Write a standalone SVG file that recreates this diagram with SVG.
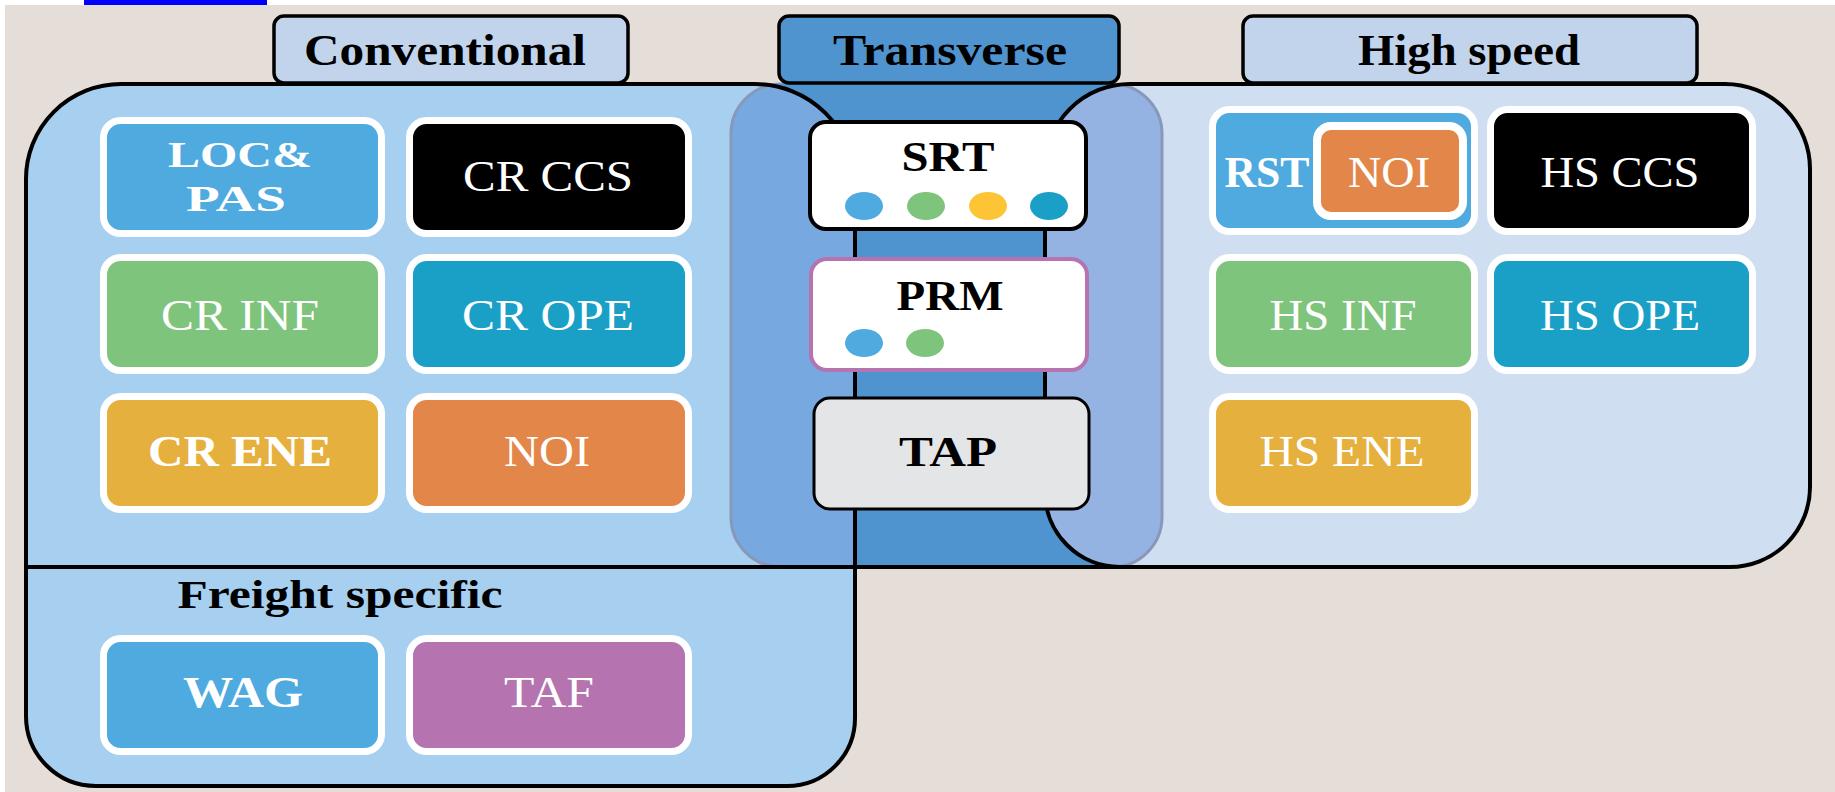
<svg xmlns="http://www.w3.org/2000/svg" width="1835" height="792" viewBox="0 0 1835 792">
<style>
.hdr{font-family:"Liberation Serif","Times New Roman",serif;font-weight:bold;font-size:44px;fill:#000;text-anchor:middle}
.tr{font-family:"Liberation Serif","Times New Roman",serif;font-weight:bold;font-size:43px;fill:#000;text-anchor:middle}
.lbl{font-family:"Liberation Serif","Times New Roman",serif;font-size:44px;fill:#fff;text-anchor:middle}
.lbl.sm{font-size:35px}
.b{font-weight:bold}
.tile{stroke:#fff;stroke-width:7}
.hb{stroke:#000;stroke-width:3.5}
.out{fill:none;stroke:#000;stroke-width:4}
</style>
<rect x="0" y="0" width="1835" height="792" fill="#e5ddd8"/>
<rect x="0" y="0" width="1835" height="5" fill="#fff"/>
<rect x="0" y="0" width="5" height="792" fill="#fff"/>
<rect x="84" y="0" width="183" height="5" fill="#0000ff"/>

<g id="regions">
  <path d="M755 84 A100 100 0 0 1 855 184 L855 567 L1120 567 A75 75 0 0 1 1045 492 L1045 169 A85 85 0 0 1 1130 84 Z" fill="#4f93cf"/>
  <path d="M26 179 A95 95 0 0 1 121 84 L755 84 A100 100 0 0 1 855 184 L855 718 A68 68 0 0 1 787 786 L96 786 A70 70 0 0 1 26 716 Z" fill="#a7cfef"/>
  <path d="M1130 84 L1725 84 A85 85 0 0 1 1810 169 L1810 487 A80 80 0 0 1 1730 567 L1120 567 A75 75 0 0 1 1045 492 L1045 169 A85 85 0 0 1 1130 84 Z" fill="#cfdef1"/>
  <rect x="731" y="84" width="431" height="483" rx="50" fill="rgb(0,70,185)" fill-opacity="0.28" stroke="#8898bb" stroke-width="3"/>
  <path d="M755 84 A100 100 0 0 1 855 184 L855 567 L1120 567 A75 75 0 0 1 1045 492 L1045 169 A85 85 0 0 1 1130 84 Z" fill="#4f93cf"/>
  <path class="out" d="M26 179 A95 95 0 0 1 121 84 L755 84 A100 100 0 0 1 855 184 L855 718 A68 68 0 0 1 787 786 L96 786 A70 70 0 0 1 26 716 Z"/>
  <path class="out" d="M1130 84 L1725 84 A85 85 0 0 1 1810 169 L1810 487 A80 80 0 0 1 1730 567 L1120 567 A75 75 0 0 1 1045 492 L1045 169 A85 85 0 0 1 1130 84 Z"/>
  <path class="out" d="M26 567 L1120 567"/>
</g>

<g id="connectors"></g>

<g id="hdr-conventional">
  <rect class="hb" x="274" y="16" width="354" height="67" rx="10" fill="#c2d3ec"/>
  <text class="hdr" x="445" y="65" textLength="282" lengthAdjust="spacingAndGlyphs">Conventional</text>
</g>
<g id="hdr-transverse">
  <rect class="hb" x="779" y="16" width="340" height="67" rx="10" fill="#4f93cf"/>
  <text class="hdr" x="950" y="65" textLength="234" lengthAdjust="spacingAndGlyphs">Transverse</text>
</g>
<g id="hdr-highspeed">
  <rect class="hb" x="1243" y="16" width="454" height="67" rx="10" fill="#c2d3ec"/>
  <text class="hdr" x="1469" y="65" textLength="222" lengthAdjust="spacingAndGlyphs">High speed</text>
</g>

<g id="loc-pas">
  <rect class="tile" x="103.5" y="120.5" width="278" height="113" rx="17" fill="#4eaadf"/>
  <text class="lbl b sm" x="240" y="167" textLength="144" lengthAdjust="spacingAndGlyphs">LOC&amp;</text>
  <text class="lbl b sm" x="236" y="211" textLength="100" lengthAdjust="spacingAndGlyphs">PAS</text>
</g>
<g id="cr-ccs">
  <rect class="tile" x="409.5" y="120.5" width="279" height="113" rx="17" fill="#000"/>
  <text class="lbl" x="548" y="191" textLength="170" lengthAdjust="spacingAndGlyphs">CR CCS</text>
</g>
<g id="cr-inf">
  <rect class="tile" x="103.5" y="257.5" width="278" height="113" rx="17" fill="#7ec47c"/>
  <text class="lbl" x="240" y="330" textLength="158" lengthAdjust="spacingAndGlyphs">CR INF</text>
</g>
<g id="cr-ope">
  <rect class="tile" x="409.5" y="257.5" width="279" height="113" rx="17" fill="#1aa0c6"/>
  <text class="lbl" x="548" y="330" textLength="172" lengthAdjust="spacingAndGlyphs">CR OPE</text>
</g>
<g id="cr-ene">
  <rect class="tile" x="103.5" y="396.5" width="278" height="113" rx="17" fill="#e6b03f"/>
  <text class="lbl b" x="240" y="466" textLength="184" lengthAdjust="spacingAndGlyphs">CR ENE</text>
</g>
<g id="cr-noi">
  <rect class="tile" x="409.5" y="396.5" width="279" height="113" rx="17" fill="#e2864a"/>
  <text class="lbl" x="547" y="466" textLength="86" lengthAdjust="spacingAndGlyphs">NOI</text>
</g>

<g id="freight-label">
  <text x="340" y="608" font-family="Liberation Serif, Times New Roman, serif" font-weight="bold" font-size="40" text-anchor="middle" textLength="325" lengthAdjust="spacingAndGlyphs">Freight specific</text>
</g>
<g id="wag">
  <rect class="tile" x="103.5" y="638.5" width="278" height="113" rx="17" fill="#4eaadf"/>
  <text class="lbl b" x="243" y="707" textLength="120" lengthAdjust="spacingAndGlyphs">WAG</text>
</g>
<g id="taf">
  <rect class="tile" x="409.5" y="638.5" width="279" height="113" rx="17" fill="#b573b0"/>
  <text class="lbl" x="549" y="707" textLength="90" lengthAdjust="spacingAndGlyphs">TAF</text>
</g>

<g id="srt">
  <rect x="810" y="122" width="276" height="107" rx="16" fill="#fff" stroke="#000" stroke-width="4"/>
  <text class="tr" x="948" y="171" textLength="93" lengthAdjust="spacingAndGlyphs">SRT</text>
  <ellipse cx="864" cy="206" rx="19" ry="14" fill="#4eaadf"/>
  <ellipse cx="926" cy="206" rx="19" ry="14" fill="#7ec47c"/>
  <ellipse cx="988" cy="206" rx="19" ry="14" fill="#fdc536"/>
  <ellipse cx="1049" cy="206" rx="19" ry="14" fill="#1aa0c6"/>
</g>
<g id="prm">
  <rect x="811" y="259" width="276" height="111" rx="16" fill="#fff" stroke="#b573b0" stroke-width="4"/>
  <text class="tr" x="950" y="310" textLength="107" lengthAdjust="spacingAndGlyphs">PRM</text>
  <ellipse cx="864" cy="343" rx="19" ry="14" fill="#4eaadf"/>
  <ellipse cx="925" cy="343" rx="19" ry="14" fill="#7ec47c"/>
</g>
<g id="tap">
  <rect x="814" y="398" width="275" height="111" rx="16" fill="#e4e5e7" stroke="#000" stroke-width="3"/>
  <text class="tr" x="948" y="466" textLength="98" lengthAdjust="spacingAndGlyphs">TAP</text>
</g>

<g id="rst">
  <rect class="tile" x="1212.5" y="109.5" width="262" height="122" rx="17" fill="#4eaadf"/>
  <text class="lbl b" x="1267" y="187" textLength="85" lengthAdjust="spacingAndGlyphs">RST</text>
</g>
<g id="hs-noi">
  <rect x="1317" y="126" width="146" height="90" rx="14" fill="#e2864a" stroke="#fff" stroke-width="8"/>
  <text class="lbl" x="1389" y="187" textLength="82" lengthAdjust="spacingAndGlyphs">NOI</text>
</g>
<g id="hs-ccs">
  <rect class="tile" x="1490.5" y="109.5" width="262" height="122" rx="17" fill="#000"/>
  <text class="lbl" x="1620" y="187" textLength="159" lengthAdjust="spacingAndGlyphs">HS CCS</text>
</g>
<g id="hs-inf">
  <rect class="tile" x="1212.5" y="257.5" width="262" height="113" rx="17" fill="#7ec47c"/>
  <text class="lbl" x="1343" y="330" textLength="147" lengthAdjust="spacingAndGlyphs">HS INF</text>
</g>
<g id="hs-ope">
  <rect class="tile" x="1490.5" y="257.5" width="262" height="113" rx="17" fill="#1aa0c6"/>
  <text class="lbl" x="1620" y="330" textLength="160" lengthAdjust="spacingAndGlyphs">HS OPE</text>
</g>
<g id="hs-ene">
  <rect class="tile" x="1212.5" y="396.5" width="262" height="113" rx="17" fill="#e6b03f"/>
  <text class="lbl" x="1342" y="466" textLength="165" lengthAdjust="spacingAndGlyphs">HS ENE</text>
</g>
</svg>
